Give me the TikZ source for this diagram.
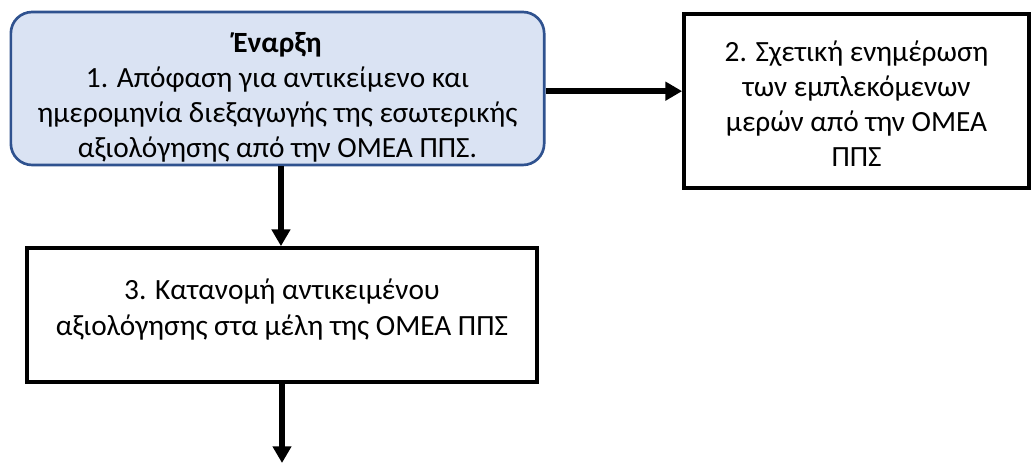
\documentclass[tikz,border=0pt]{standalone}
\usepackage{fontspec}
\setmainfont{Carlito}
\usetikzlibrary{arrows.meta}
\definecolor{boxfill}{HTML}{DAE3F3}
\definecolor{boxline}{HTML}{2F528F}
\begin{document}
\begin{tikzpicture}[x=0.75pt,y=-0.75pt,
  txt/.style={font=\fontsize{22}{26.4}\selectfont, align=center, inner sep=0pt, anchor=base},
  plainbox/.style={draw=black, line width=2.8pt, inner sep=0pt},
  startbox/.style={draw=boxline, fill=boxfill, line width=2pt, rounded corners=16pt, inner sep=0pt},
  flow/.style={line width=4.4pt, -{Triangle[length=12.5pt,width=13.5pt]}}]
\useasboundingbox (0,0) rectangle (1034,463);
\node[startbox, minimum width=400pt, minimum height=114.75pt] (b1) at (277.5,88.5) {};
\node[plainbox, minimum width=258.75pt, minimum height=130.5pt] (b2) at (856.5,101) {};
\node[plainbox, minimum width=382.5pt, minimum height=100.5pt] (b3) at (282,315) {};
\node[txt] (t1) at (277.5,158) {{\bfseries Έναρξη}\\1. Απόφαση για αντικείμενο και\\ημερομηνία διεξαγωγής της εσωτερικής\\αξιολόγησης από την ΟΜΕΑ ΠΠΣ.};
\node[txt] (t2) at (856.5,167) {2. Σχετική ενημέρωση\\των εμπλεκόμενων\\μερών από την ΟΜΕΑ\\ΠΠΣ};
\node[txt] (t3) at (282,335) {3. Κατανομή αντικειμένου\\αξιολόγησης στα μέλη της ΟΜΕΑ ΠΠΣ};
\coordinate (end) at (282,463);
\draw[flow] ([yshift=-2pt]b1.east) -- ([yshift=-2pt]b1.east -| b2.west);
\draw[flow] ([xshift=2.6pt]b1.south) -- ([xshift=2.6pt]b1.south |- b3.north);
\draw[flow] (b3.south -| end) -- (end);
\end{tikzpicture}
\end{document}
